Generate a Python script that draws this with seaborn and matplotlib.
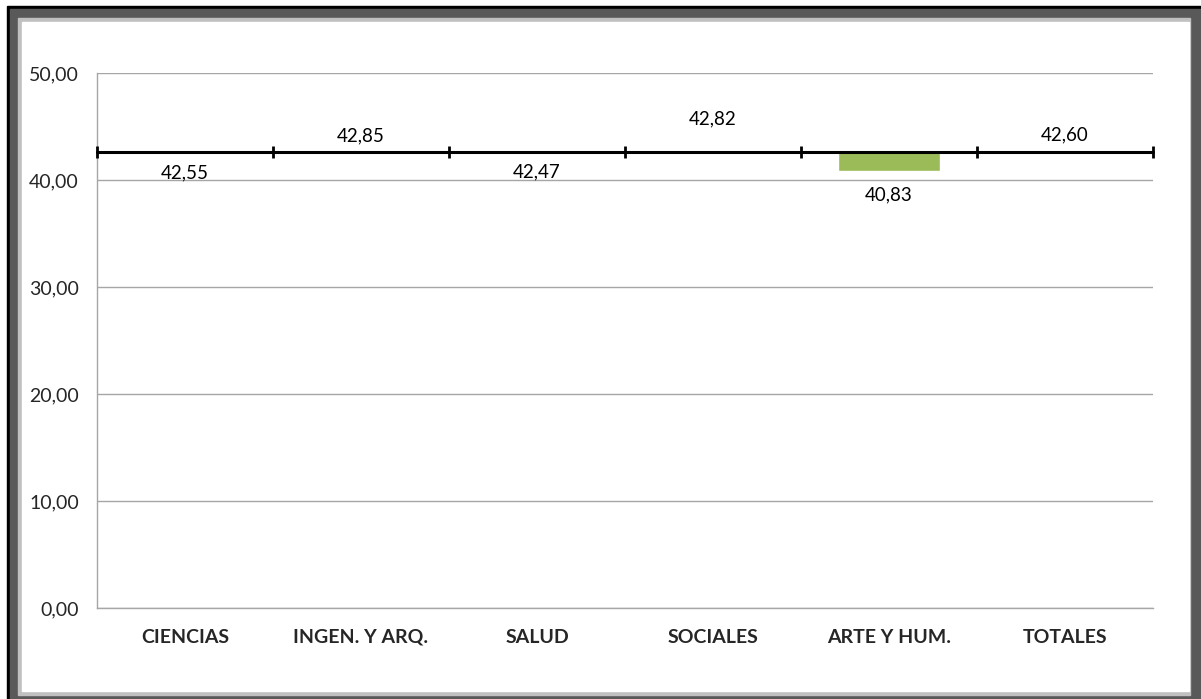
import numpy as np
import pandas as pd
import matplotlib
matplotlib.use("Agg")
import matplotlib.pyplot as plt
from matplotlib.patches import Rectangle
import seaborn as sns

# Datos
categorias = ["CIENCIAS", "INGEN. Y ARQ.", "SALUD", "SOCIALES", "ARTE Y HUM.", "TOTALES"]
valores = [42.55, 42.85, 42.47, 42.82, 40.83, 42.60]
base = 42.60
ticks_y = [0, 10, 20, 30, 40, 50]

# Desplazamiento de las etiquetas (pixeles)
desp_etiquetas = [20, -14, 18, -31, 24, -17]

W, H = 1201, 699
sns.set_theme(style="white")
plt.rcParams["font.family"] = ["Lato", "DejaVu Sans"]

fig = plt.figure(figsize=(W / 100, H / 100), dpi=100)
fig.patch.set_facecolor("white")


def rect(x0, y0, x1, y1, color):
    # coordenadas en pixeles desde arriba-izquierda
    fig.patches.append(Rectangle((x0 / W, 1 - y1 / H), (x1 - x0) / W, (y1 - y0) / H,
                                 transform=fig.transFigure, color=color, zorder=-10))


# Marco
rect(7, 6, W, H, "black")
rect(10, 9, W, H, "#595959")
rect(18, 18, 1190, 695, "#c0c0c0")
rect(22, 22, 1189, 691, "white")

ax = fig.add_axes([97 / W, 1 - 608 / H, (1153 - 97) / W, (608 - 73) / H])
ax.set_facecolor("none")

df = pd.DataFrame({"categoria": categorias,
                   "diferencia": [v - base for v in valores]})
sns.barplot(data=df, x="categoria", y="diferencia", bottom=base, color="#9bbb59",
            saturation=1, width=0.58, ax=ax, zorder=2)

n = len(categorias)
ax.set_xlim(-0.5, n - 0.5)
ax.set_ylim(0, 50)
ax.set_yticks(ticks_y)
ax.set_yticklabels([f"{t:.2f}".replace(".", ",") for t in ticks_y], fontsize=14)
ax.yaxis.grid(True, color="#a6a6a6", lw=1)
ax.set_axisbelow(True)
ax.set_xlabel("")
ax.set_ylabel("")
for lado in ["top", "right"]:
    ax.spines[lado].set_visible(False)
for lado in ["left", "bottom"]:
    ax.spines[lado].set_color("#a6a6a6")
    ax.spines[lado].set_linewidth(1)
ax.tick_params(axis="x", length=0, pad=15)
ax.tick_params(axis="y", length=0, pad=13)
for lbl in ax.get_xticklabels():
    lbl.set_fontweight("bold")
    lbl.set_fontsize(14)

# Linea de referencia con marcas
bordes = np.arange(n + 1) - 0.5
ax.plot([bordes[0], bordes[-1]], [base, base], color="black", lw=2.2, zorder=3, clip_on=False)
ax.plot(bordes, [base] * len(bordes), ls="none", marker="|", markersize=9,
        markeredgewidth=2, color="black", zorder=3, clip_on=False)

# Etiquetas de valores
for i, (v, d) in enumerate(zip(valores, desp_etiquetas)):
    ax.annotate(f"{v:.2f}".replace(".", ","), (i, v), xytext=(0, -d),
                textcoords="offset pixels", ha="center", va="center", fontsize=13.5,
                color="black", zorder=4)

fig.savefig("out.png", dpi=100)
